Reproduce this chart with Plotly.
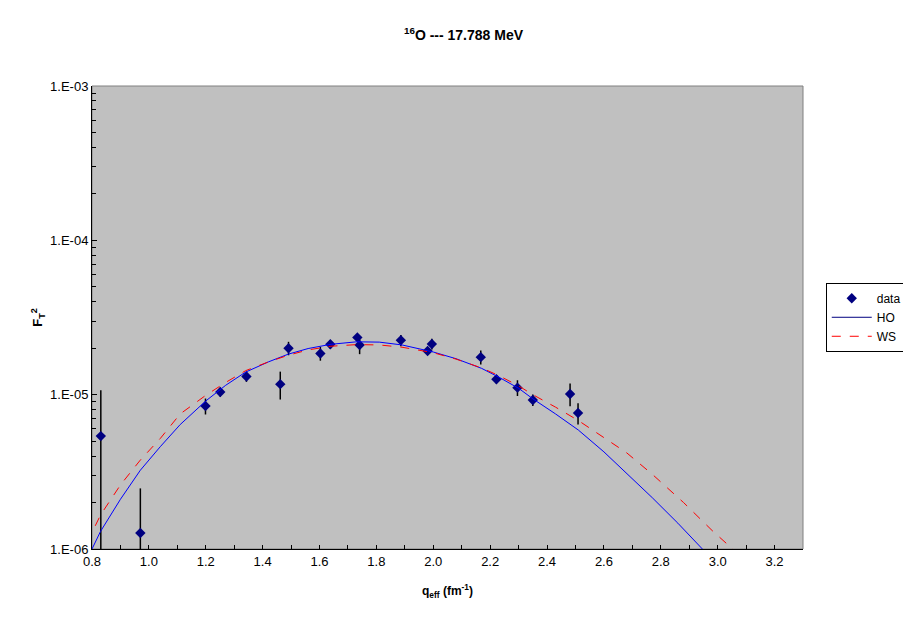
import plotly.graph_objects as go

# measured data (q_eff in fm^-1, F_T^2)
q_data = [0.831, 0.970, 1.199, 1.251, 1.343, 1.462, 1.491, 1.603, 1.638, 1.733,
          1.741, 1.886, 1.980, 1.995, 2.167, 2.222, 2.296, 2.350, 2.481, 2.509]
f2_data = [5.39e-6, 1.27e-6, 8.44e-6, 1.04e-5, 1.31e-5, 1.17e-5, 2.00e-5, 1.85e-5, 2.12e-5, 2.35e-5,
           2.10e-5, 2.25e-5, 1.92e-5, 2.13e-5, 1.75e-5, 1.26e-5, 1.11e-5, 9.23e-6, 1.01e-5, 7.60e-6]
f2_err = [5.3e-6, 1.2e-6, 1.0e-6, 7.0e-7, 1.0e-6, 2.4e-6, 2.0e-6, 1.9e-6, 1.4e-6, 1.0e-6,
          2.7e-6, 1.9e-6, 7.0e-7, 1.7e-6, 1.8e-6, 8.0e-7, 1.3e-6, 8.0e-7, 1.7e-6, 1.2e-6]

# harmonic oscillator calculation
q_ho = [0.80, 0.83, 0.90, 0.97, 1.04, 1.11, 1.20, 1.27, 1.34, 1.42, 1.49, 1.56, 1.64, 1.73, 1.81,
        1.89, 2.00, 2.08, 2.17, 2.23, 2.30, 2.35, 2.43, 2.51, 2.60, 2.68, 2.77, 2.86, 2.95, 2.98]
f2_ho = [1.00e-6, 1.30e-6, 2.10e-6, 3.24e-6, 4.6e-6, 6.4e-6, 9.1e-6, 1.15e-5, 1.40e-5, 1.63e-5,
         1.83e-5, 1.99e-5, 2.12e-5, 2.20e-5, 2.19e-5, 2.10e-5, 1.89e-5, 1.71e-5, 1.48e-5, 1.30e-5,
         1.10e-5, 9.4e-6, 7.5e-6, 5.9e-6, 4.26e-6, 3.1e-6, 2.15e-6, 1.47e-6, 9.9e-7, 8.6e-7]

# Woods-Saxon calculation
q_ws = [0.78, 0.80, 0.83, 0.90, 0.97, 1.04, 1.11, 1.20, 1.27, 1.34, 1.42, 1.49, 1.56, 1.64, 1.73,
        1.81, 1.89, 2.00, 2.08, 2.17, 2.23, 2.30, 2.35, 2.43, 2.51, 2.60, 2.68, 2.77, 2.88, 2.98,
        3.05, 3.08]
f2_ws = [1.12e-6, 1.28e-6, 1.66e-6, 2.6e-6, 3.77e-6, 5.2e-6, 7.5e-6, 9.9e-6, 1.20e-5, 1.43e-5,
         1.63e-5, 1.80e-5, 1.95e-5, 2.06e-5, 2.11e-5, 2.10e-5, 2.03e-5, 1.87e-5, 1.70e-5, 1.49e-5,
         1.33e-5, 1.14e-5, 1.0e-5, 8.3e-6, 6.8e-6, 5.3e-6, 4.2e-6, 3.05e-6, 2.0e-6, 1.32e-6,
         1.0e-6, 0.9e-6]

x_ticks = [0.8, 1.0, 1.2, 1.4, 1.6, 1.8, 2.0, 2.2, 2.4, 2.6, 2.8, 3.0, 3.2]
y_ticks = [1e-6, 1e-5, 1e-4, 1e-3]
y_labels = ["1.E-06", "1.E-05", "1.E-04", "1.E-03"]

FONT = "Liberation Sans, Arial, sans-serif"

fig = go.Figure()

fig.add_trace(go.Scatter(
    x=q_data, y=f2_data, mode="markers", name="data",
    marker=dict(symbol="diamond", size=8, color="#000080"),
    error_y=dict(type="data", array=f2_err, color="black", thickness=1.5, width=0),
))
fig.add_trace(go.Scatter(
    x=q_ho, y=f2_ho, mode="lines", name="HO", showlegend=False,
    line=dict(color="#0000FF", width=1),
))
# legend entry for HO drawn in dark blue like the original
fig.add_trace(go.Scatter(
    x=[None], y=[None], mode="lines", name="HO",
    line=dict(color="#000080", width=1),
))
fig.add_trace(go.Scatter(
    x=q_ws, y=f2_ws, mode="lines", name="WS",
    line=dict(color="#FF0000", width=1, dash="dash"),
))

minor_y = [m * 10 ** e for e in range(-6, -3) for m in range(2, 10)]

fig.update_layout(
    width=911, height=623,
    margin=dict(l=84, r=116, t=78, b=82),
    paper_bgcolor="white",
    plot_bgcolor="#C0C0C0",
    font=dict(family=FONT, size=13, color="black"),
    title=dict(
        text="<b><sup>16</sup>O --- 17.788 MeV</b>",
        x=0.5, xanchor="center", y=0.957, yanchor="middle",
        font=dict(size=14),
    ),
    showlegend=True,
    legend=dict(
        x=1.032, y=0.575, xanchor="left", yanchor="top",
        bgcolor="white", bordercolor="black", borderwidth=1,
        font=dict(size=12), tracegroupgap=0, itemwidth=40,
    ),
    xaxis=dict(
        range=[0.8, 3.3], tickvals=x_ticks, ticktext=[f"{v:.1f}" for v in x_ticks],
        ticks="inside", ticklen=4, tickcolor="black",
        minor=dict(dtick=0.1, tick0=0.8, ticks="inside", ticklen=4, tickcolor="black"),
        showgrid=False, zeroline=False,
        showline=True, linecolor="black", linewidth=1,
        title=dict(text="<b>q<sub>eff</sub> (fm<sup>-1</sup>)</b>", font=dict(size=12), standoff=19),
    ),
    yaxis=dict(
        type="log", range=[-6, -3], tickvals=y_ticks, ticktext=y_labels,
        ticks="inside", ticklen=5, tickcolor="black",
        minor=dict(tickmode="array", tickvals=minor_y, ticks="inside", ticklen=4, tickcolor="black"),
        showgrid=False, zeroline=False,
        showline=True, linecolor="black", linewidth=1,
        title=dict(text="<b>F<sub>T</sub><sup>2</sup></b>", font=dict(size=13), standoff=4),
    ),
)

# gray frame around the plot area (top and right edges)
fig.add_shape(type="rect", xref="paper", yref="paper", x0=0, y0=0, x1=1, y1=1,
              line=dict(color="#808080", width=1), layer="below")

fig.write_html("out.html")
